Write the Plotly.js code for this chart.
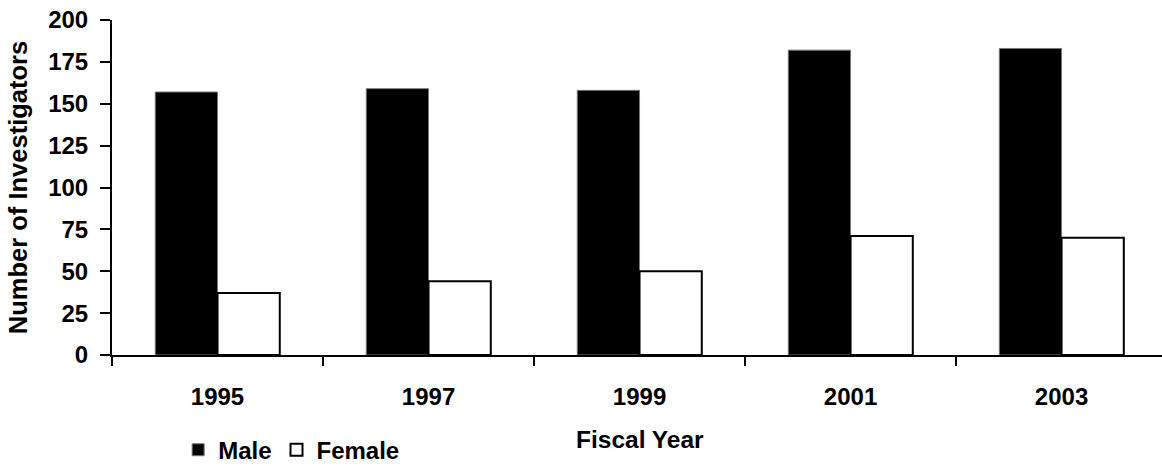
<!DOCTYPE html>
<html>
<head>
<meta charset="utf-8">
<script src="https://cdn.plot.ly/plotly-3.0.1.min.js"></script>
<style>html,body{margin:0;padding:0;background:#fff;}#chart{width:1162px;height:466px;}</style>
</head>
<body>
<div id="chart"></div>
<script>
const years = ['1995', '1997', '1999', '2001', '2003'];
const male = [157, 159, 158, 182, 183];
const female = [37, 44, 50, 71, 70];
const yTicks = [0, 25, 50, 75, 100, 125, 150, 175, 200];
const xTitle = 'Fiscal Year';
const yTitle = 'Number of Investigators';

const fontFam = '"Liberation Sans", Arial, sans-serif';

const traces = [
  {type: 'bar', name: 'Male', x: years, y: male,
   marker: {color: '#000000', line: {color: '#777777', width: 1}}},
  {type: 'bar', name: 'Female', x: years, y: female,
   marker: {color: '#ffffff', line: {color: '#000000', width: 2}}}
];

const layout = {
  width: 1162, height: 466,
  margin: {l: 112, r: 0, t: 20, b: 111, autoexpand: false},
  paper_bgcolor: '#fff', plot_bgcolor: '#fff',
  font: {family: fontFam, color: '#000', size: 24, weight: 'bold'},
  barmode: 'group', bargap: 0.41, bargroupgap: 0,
  showlegend: true,
  legend: {orientation: 'h', x: 0.063, xanchor: 'left', xref: 'paper',
           yref: 'container', y: 0.034, yanchor: 'middle',
           font: {size: 24, weight: 'bold'}, traceorder: 'normal', itemwidth: 30},
  xaxis: {type: 'category', range: [-0.5, 4.476], tickson: 'boundaries',
          ticks: 'outside', ticklen: 9, tickwidth: 2, tickcolor: '#000',
          showline: true, linecolor: '#000', linewidth: 2, showgrid: false,
          zeroline: false, ticklabelstandoff: 19, automargin: false,
          tickfont: {size: 24, weight: 'bold'}},
  yaxis: {range: [0, 200], tickvals: yTicks, ticktext: yTicks.map(String),
          ticks: 'outside', ticklen: 10, tickwidth: 2, tickcolor: '#000',
          showline: true, linecolor: '#000', linewidth: 2, showgrid: false,
          zeroline: false, ticklabelstandoff: 7, automargin: false,
          tickfont: {size: 24, weight: 'bold'},
          title: {text: yTitle, font: {size: 25.5, weight: 'bold'}, standoff: 13}},
  annotations: [
    {text: xTitle, xref: 'paper', yref: 'paper', x: 0.5024, y: -0.2537,
     xanchor: 'center', yanchor: 'middle', showarrow: false,
     font: {size: 24.5, weight: 'bold', family: fontFam, color: '#000'}}
  ]
};

Plotly.newPlot('chart', traces, layout, {staticPlot: true, displayModeBar: false});
</script>
</body>
</html>
